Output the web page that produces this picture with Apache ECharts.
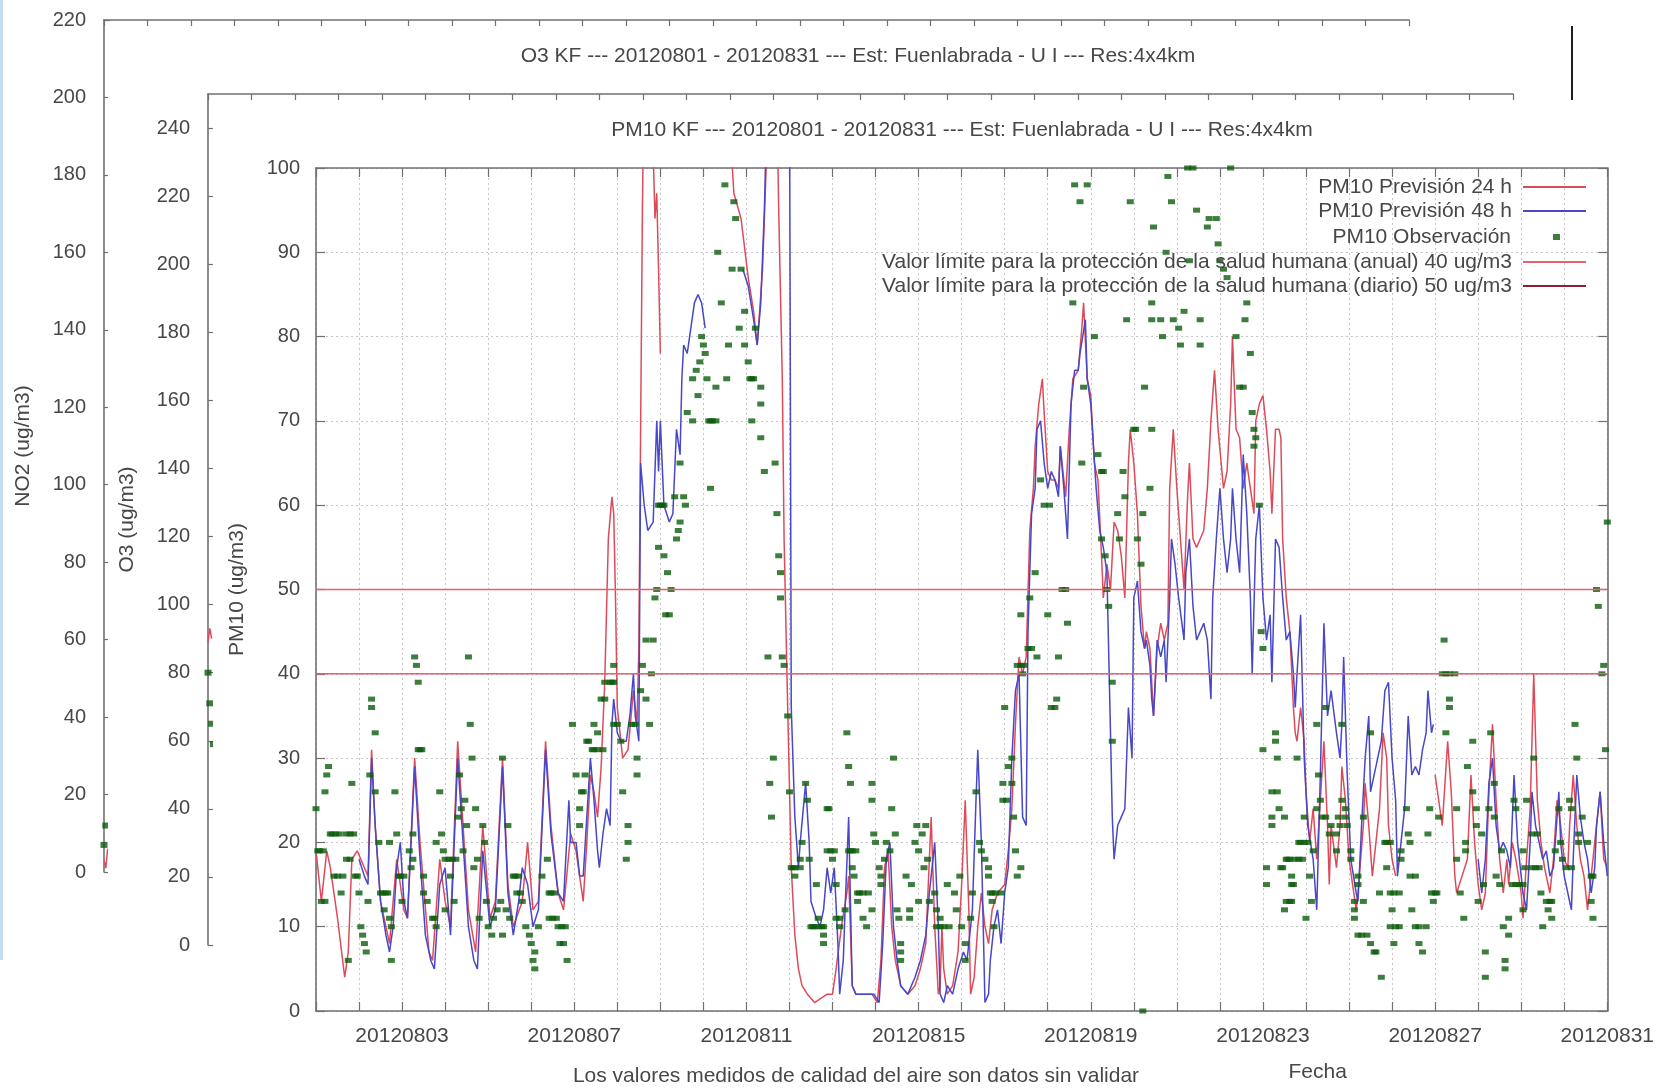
<!DOCTYPE html>
<html><head><meta charset="utf-8">
<script src="https://cdn.jsdelivr.net/npm/echarts@6/dist/echarts.min.js"></script>
<style>html,body{margin:0;padding:0;background:#fff}#c{width:1657px;height:1088px}</style>
</head><body><div id="c"></div>
<script>
// ---------- DATA (x = hours since 2012-08-01 00:00) ----------
const dateLabelDays = [2, 6, 10, 14, 18, 22, 26, 30];
const dateLabels = ['20120803','20120807','20120811','20120815','20120819','20120823','20120827','20120831'];

const pm10Prev24 = [
[0,19],[3,13],[6,19],[8,17],[12,11],[16,4],[18,7],[20,18],[23,19],[27,17],[29,16],[31,31],[33,22],[36,13],[41,8],[45,18],[49,12],[51,11],[55,30],[58,20],[63,7],[65,6],[69,18],[72,13],[75,10],[79,32],[82,22],[85,12],[89,7],[93,22],[97,11],[100,13],[104,30],[107,15],[110,10],[115,13],[118,20],[121,12],[124,13],[128,32],[131,22],[135,14],[138,12],
[142,21],[145,19],[149,13],[151,20],[153,28],[155,26],[157,23],[159,29],[161,39],[163,56],[165,61],[166,59],[167,49],[168,36],[171,30],[174,31],[177,38],[179,34],[180,43],[181,69],[182,95],[183,112],[186,118],[189,94],[190,97],[191,88],[192,78],[193,null],
[231,104],[233,97],[237,94],[241,87],[244,83],[246,79],[247,82],[249,88],[251,100],[253,118],[256,120],[258,95],[260,75],[261,56],[263,36],[265,17],[267,9],[269,5],[271,3],[274,2],[278,1],[285,2],[288,2],[290,5],[293,10],[296,14],[297,16],[299,3],[301,2],[306,2],[310,2],[313,1],[315,6],[317,17],[319,19],[321,10],[323,6],[326,3],[330,2],[334,3],[337,5],[340,8],[342,18],[343,23],[345,10],[347,2],[348,3],[349,10],[350,5],[352,2],[355,3],[358,7],[360,15],[362,25],[364,12],[365,2],[367,4],[369,10],[371,14],[373,10],[375,8],[377,12],[380,14],[384,15],[386,19],[388,24],[390,34],[392,42],[394,40],[396,42],[398,57],[400,62],
[401,67],[403,72],[405,75],[406,71],[408,64],[410,63],[412,63],[414,62],[415,67],[416,65],[418,61],[420,69],[422,75],[425,76],[427,81],[428,84],[430,75],[432,73],[434,65],[436,63],[438,54],[439,49],[441,53],[443,50],[445,58],[447,57],[449,54],[451,49],[453,65],[454,69],[456,65],[458,59],[460,48],[462,43],[463,45],[465,43],[467,35],[469,43],[471,46],[473,44],[475,46],[476,62],[478,69],[480,62],[482,56],[484,50],[486,61],[487,65],[489,56],[491,55],[493,56],[495,57],[497,62],[499,70],[501,76],[503,69],[506,62],[508,64],[510,72],[511,80],[513,69],[515,68],[517,62],[519,65],[521,62],[523,59],[524,70],[526,72],[528,73],[530,69],[532,64],[533,59],[535,69],[537,69],[538,68],[539,56],[541,49],[543,45],[545,36],[546,33],
[547,32],[549,36],[551,32],[552,26],[554,20],[556,24],[558,18],[560,25],[562,32],[564,22],[565,15],[566,22],[569,17],[571,22],[572,29],[574,25],[576,18],[578,15],[580,12],[581,14],[584,22],[585,27],[587,22],[589,16],[591,20],[593,24],[595,33],[597,30],[598,22],[600,18],[602,16],[604,null],
[624,28],[626,25],[628,22],[631,32],[633,26],[635,16],[636,14],[639,16],[642,18],[644,28],[646,20],[648,15],[650,12],[652,14],[654,26],[656,34],[658,25],[660,18],[662,14],[664,18],[665,15],[667,20],[669,18],[672,14],[673,11],[675,18],[677,24],[679,40],[681,25],[683,20],[685,17],[686,16],[688,14],[690,18],[692,25],[694,22],[696,18],[698,17],[699,22],[701,28],[703,22],[705,18],[707,16],[709,12],[711,16],[712,18],[714,22],[716,26],[718,18],[720,17]
];

const pm10Prev48 = [
[24,18],[27,16],[29,15],[31,30],[33,22],[36,13],[39,9],[41,7],[43,10],[45,17],[47,20],[49,13],[51,11],[55,29],[58,18],[61,9],[64,6],[66,5],[69,15],[72,17],[75,9],[79,30],[82,20],[85,10],[88,6],[90,5],[93,19],[97,10],[100,12],[104,29],[107,14],[110,9],[113,13],[115,17],[118,15],[121,10],[124,12],[128,31],[131,21],[135,14],[138,13],
[141,25],[142,20],[145,20],[147,16],[149,16],[151,23],[153,30],[155,25],[157,19],[158,17],[160,21],[162,24],[164,22],[165,34],[166,37],[168,33],[170,32],[173,32],[175,35],[177,40],[178,35],[180,32],[181,65],[183,60],[185,57],[188,58],[190,70],[191,64],[192,70],[194,60],[197,58],[199,59],[201,69],[203,66],[204,75],[205,79],[207,78],[209,81],[211,84],[213,85],[215,84],[217,81],[218,null],
[238,88],[241,86],[244,82],[246,79],[248,84],[250,95],[252,112],[258,118],[264,112],[265,36],[267,23],[269,17],[270,20],[273,27],[275,20],[276,13],[279,11],[281,10],[283,12],[285,17],[287,14],[289,17],[291,8],[292,2],[294,6],[295,12],[297,23],[299,3],[301,2],[306,2],[311,2],[314,1],[316,8],[318,18],[320,20],[322,10],[324,6],[326,3],[330,2],[334,4],[337,6],[340,9],[342,14],[345,20],[347,10],[348,2],[350,1],[352,3],[355,2],[358,5],[361,7],[363,6],[366,12],[368,25],[369,31],[371,20],[373,1],[375,2],[376,6],[378,10],[380,12],[382,8],[384,14],[386,17],[388,30],[390,38],[392,40],[394,23],[396,22],[397,45],[399,59],
[401,62],[402,69],[404,70],[406,65],[408,62],[410,64],[412,63],[414,61],[415,67],[417,62],[419,56],[421,72],[423,76],[425,76],[426,78],[429,82],[430,75],[432,72],[435,62],[437,57],[439,55],[441,52],[443,33],[444,23],[445,18],[447,22],[449,23],[451,24],[453,36],[454,33],[455,30],[456,49],[458,51],[460,45],[462,43],[463,44],[465,41],[466,37],[467,35],[469,44],[471,42],[473,44],[474,39],[476,49],[477,56],[479,53],[481,49],[484,44],[485,52],[487,56],[489,48],[491,44],[493,45],[495,46],[497,44],[499,37],[500,49],[502,56],[504,62],[506,56],[508,52],[510,56],[511,62],[513,56],[515,52],[517,66],[519,59],[521,49],[522,40],[524,56],[526,60],[528,49],[530,44],[532,47],[533,39],[535,56],[537,55],[539,49],[541,44],[543,45],[545,40],[546,36],
[547,40],[549,47],[551,30],[553,22],[556,18],[558,12],[560,28],[562,46],[564,35],[566,38],[567,38],[569,33],[571,30],[572,34],[573,42],[575,28],[577,18],[580,14],[581,13],[583,22],[585,30],[587,35],[588,26],[590,28],[592,30],[594,32],[596,38],[598,39],[600,30],[602,25],[603,16],[605,20],[607,24],[609,35],[611,28],[613,29],[615,28],[617,31],[619,33],[620,38],[622,33],[623,34],[624,null],
[648,18],[650,14],[652,18],[654,27],[656,30],[658,22],[660,19],[662,20],[664,19],[666,17],[668,28],[670,20],[673,14],[675,12],[677,20],[678,26],[680,22],[682,20],[684,18],[686,19],[688,16],[690,17],[693,26],[694,20],[696,16],[698,14],[700,12],[701,18],[703,28],[705,23],[707,20],[709,18],[711,14],[713,17],[714,22],[716,26],[718,20],[720,16]
];

const pm10Obs = [
[0,24],[1,19],[2,19],[3,13],[4,19],[5,13],[5,26],[6,28],[7,29],[8,21],[9,21],[10,16],[11,21],[12,16],[13,21],[14,14],[15,16],[17,21],[17,18],[18,6],[19,21],[19,18],[20,27],[21,21],[22,16],[23,16],[24,14],[25,10],[26,9],[27,8],[28,7],[29,13],[30,28],[31,37],[31,36],[33,33],[33,26],[35,20],[36,14],[37,14],[38,12],[39,14],[40,14],[41,11],[42,10],[42,6],[41,20],[44,26],[45,21],[46,16],[47,16],[48,13],[49,16],[52,19],[53,17],[54,21],[54,18],[55,42],[56,41],[57,39],[57,31],[58,31],[59,31],[60,16],[60,14],[62,13],[65,11],[66,11],[67,10],[67,20],[69,26],[70,21],[71,19],[72,18],[72,12],[74,18],[75,16],[76,18],[77,13],[78,18],[79,23],[80,28],[81,24],[82,19],[83,25],[84,22],[85,42],[86,34],[87,30],[88,17],[89,24],[90,18],[91,11],[93,22],[94,20],[95,13],[96,10],[98,9],[99,11],[101,12],[103,13],[104,30],[104,9],[106,12],[107,22],[108,11],[110,16],[111,16],[112,14],[113,16],[114,14],[115,13],[117,10],[119,9],[120,8],[121,6],[122,7],[122,5],[124,10],[126,16],[129,18],[130,14],[131,14],[130,11],[132,11],[133,14],[134,11],[135,10],[136,8],
[137,10],[138,8],[139,10],[140,6],[143,34],[145,28],[147,22],[147,24],[148,26],[149,26],[150,28],[151,32],[152,32],[154,31],[155,31],[155,34],[157,31],[157,33],[159,37],[160,31],[161,37],[161,39],[164,39],[165,39],[166,39],[166,41],[166,34],[168,34],[170,32],[171,26],[173,18],[174,22],[174,20],[176,34],[178,34],[179,30],[179,28],[181,38],[182,41],[184,44],[184,37],[186,34],[187,40],[188,44],[189,49],[190,50],[191,55],[191,60],[192,60],[193,60],[194,60],[194,54],[195,47],[196,52],[197,47],[198,50],[200,61],[201,56],[202,57],[203,58],[203,65],[205,61],[206,60],[207,71],[210,70],[210,75],[212,76],[213,73],[214,77],[215,80],[216,79],[217,78],[218,75],[219,70],[220,70],[220,62],[221,70],[223,70],[223,74],[224,90],[226,84],[228,98],[229,75],[230,79],[232,88],[233,96],[234,94],[236,81],[237,88],[239,83],[239,79],[241,77],[242,75],[243,75],[243,70],[244,75],[245,81],[248,72],[248,74],[248,68],[250,64],[252,42],[253,27],[254,23],[255,30],[256,65],[257,59],[258,54],[259,52],[259,49],[260,42],[261,41],[263,35],[264,26],[265,17],[266,17],[267,17],[267,16],[270,17],[270,18],[271,20],[273,27],[274,25],[275,18],[276,10],[277,10],[278,10],[279,15],[280,10],[280,11],[283,10],[283,9],[285,24],[287,19],
[282,10],[283,8],[286,24],[285,19],[288,18],[289,19],[290,15],[290,11],[292,11],[292,10],[295,12],[296,33],[297,29],[298,27],[297,19],[298,19],[299,19],[301,19],[299,17],[300,16],[302,14],[303,14],[305,14],[308,14],[302,13],[305,11],[307,10],[310,12],[310,27],[310,25],[311,21],[312,20],[314,17],[315,16],[315,15],[317,18],[318,20],[320,19],[321,24],[322,30],[323,21],[324,12],[325,11],[326,8],[326,7],[326,6],[329,16],[332,15],[331,12],[331,11],[334,20],[336,19],[335,22],[338,21],[340,22],[336,13],[339,17],[341,18],[342,13],[345,14],[346,12],[346,10],[348,10],[350,10],[353,10],[348,11],[352,15],[356,14],[357,12],[359,16],[360,10],[362,8],[362,6],[366,14],[365,11],[368,26],[370,20],[371,19],[373,18],[375,17],[375,16],[376,14],[377,14],[379,14],[382,14],[377,13],[378,10],[383,27],[383,25],[385,25],[384,36],[386,29],[388,30],[388,27],[389,23],[390,19],[391,16],[393,17],
[391,41],[393,41],[395,41],[393,47],[394,40],[397,43],[399,43],[398,49],[401,52],[402,42],[404,63],[406,60],[409,60],[408,47],[410,36],[412,36],[413,37],[414,42],[416,50],[418,50],[419,46],[423,98],[430,98],[426,96],[422,84],[427,65],[428,74],[434,80],[436,66],[438,64],[439,64],[438,56],[440,54],[441,50],[442,48],[444,39],[444,32],[447,59],[448,56],[450,64],[451,61],[452,82],[454,96],[456,69],[457,69],[458,56],[460,53],[461,59],[462,74],[461,0],[465,62],[466,69],[467,93],[466,84],[466,82],[471,82],[472,80],[474,90],[475,99],[477,96],[478,82],[481,81],[482,79],[484,83],[486,100],[489,100],[487,89],[491,95],[493,82],[493,79],[497,93],[498,94],[502,94],[503,91],[504,89],[506,88],[508,87],[510,100],[513,80],[515,74],[517,74],[519,84],[518,82],[521,78],[522,71],[523,69],[523,67],[524,68],[526,60],[527,45],[528,43],[528,31],[535,33],[535,32],[533,26],[533,23],[533,22],[530,17],[530,15],[537,24],[538,17],[541,18],[543,18],[546,18],[544,15],[541,13],[544,13],
[536,30],[536,26],[540,23],[539,17],[542,18],[548,18],[550,18],[544,16],[545,15],[540,12],[543,13],[547,30],[548,20],[549,20],[551,20],[553,20],[551,23],[552,11],[554,16],[555,13],[556,19],[558,34],[563,36],[559,28],[560,25],[558,24],[561,23],[563,23],[565,21],[566,22],[569,21],[571,22],[569,19],[570,23],[572,25],[572,34],[574,24],[574,23],[575,22],[577,19],[577,18],[579,13],[579,12],[579,11],[581,16],[581,15],[581,9],[583,9],[586,9],[584,13],[584,23],[588,33],[588,8],[590,7],[591,7],[593,14],[594,4],[596,20],[597,20],[599,20],[597,17],[599,14],[601,14],[604,14],[600,12],[599,10],[602,10],[604,10],[601,8],[605,19],[605,18],[608,24],[609,21],[610,20],[610,16],[613,16],[611,12],[613,10],[615,10],[619,10],[615,8],[617,7],[620,21],[621,24],[622,14],[624,14],[625,14],[623,13],[626,23],[628,40],[630,40],[632,40],[635,40],[629,44],[630,33],[632,37],[632,36],[636,24],[636,18],[638,14],[640,11],[641,20],[641,19],[642,29],[645,32],[645,26],[647,24],[647,22],[648,13],[650,21],[651,15],[652,7],[652,4],[654,24],[655,33],[657,27],[657,23],[658,16],[660,15],[661,19],[662,10],[665,9],[663,5],[663,6],[665,11],[667,15],[669,15],[671,15],[673,15],[668,25],[669,24],[673,19],[673,12],[674,17],[675,25],[678,17],[680,17],[682,17],[678,21],[681,21],[679,30],[683,14],[684,10],[686,13],[688,13],[689,13],[687,12],[689,11],[691,19],[693,24],[694,20],[695,18],[697,17],[699,25],[700,24],[700,17],[702,34],[703,30],[704,21],[704,20],[706,23],[709,20],[711,16],[712,16],[711,13],[712,11],[714,50],[715,48],[717,40],[718,41],[719,31],[720,58]
];

const limitAnual = 40;
const limitDiario = 50;

// Only the first hours of the two charts underneath are visible
const no2Obs = [[0,7],[1,12]];
const no2Prev24 = [[0,3],[1,1],[2,6]];
const o3Obs = [[0,80],[1,71],[2,65],[3,59]];
const o3Prev24 = [[0,89],[1,93],[2,90]];

// ---------- CHART ----------
const FONT = 'Liberation Sans, Arial, Helvetica, sans-serif';
const TXT = '#474747';
const AX = '#707070';
const FS = 21;
const HMAX = 720;

function dateFmt(v) {
  const d = v / 24;
  const i = dateLabelDays.indexOf(Math.round(d));
  if (Math.abs(d - Math.round(d)) > 1e-6 || i < 0) return '';
  return dateLabels[i];
}
const lbl = (extra) => Object.assign({ color: TXT, fontSize: 20, fontFamily: FONT }, extra || {});
const nameStyle = (extra) => Object.assign({ color: TXT, fontSize: FS, fontFamily: FONT }, extra || {});
const axLine = { show: true, onZero: false, lineStyle: { color: AX, width: 1.6 } };
const tickIn = (len) => ({ show: true, inside: true, length: len, lineStyle: { color: AX, width: 1.2 } });
const gridDots = { show: true, lineStyle: { color: '#c6c6c6', type: [2, 3], width: 1 } };

const chart = echarts.init(document.getElementById('c'), null, { renderer: 'canvas' });

const legendRows = [
  { name: 'PM10 Previsión 24 h', top: 175, color: null },
  { name: 'PM10 Previsión 48 h', top: 199, color: null },
  { name: 'PM10 Observación', top: 225, obs: true },
  { name: 'Valor límite para la protección de la salud humana (anual) 40 ug/m3', top: 250, color: null },
  { name: 'Valor límite para la protección de la salud humana (diario) 50 ug/m3', top: 274, color: '#8c1f35' }
];

const option = {
  backgroundColor: '#ffffff',
  animation: false,
  title: [
    { text: 'O3 KF --- 20120801 - 20120831 --- Est: Fuenlabrada - U I --- Res:4x4km',
      left: 858, top: 44, textAlign: 'center', padding: 0, z: 6,
      textStyle: { fontSize: FS, lineHeight: 24, fontWeight: 'normal', color: TXT, fontFamily: FONT } },
    { text: 'PM10 KF --- 20120801 - 20120831 --- Est: Fuenlabrada - U I --- Res:4x4km',
      left: 962, top: 118, textAlign: 'center', padding: 0, z: 11,
      textStyle: { fontSize: FS, lineHeight: 24, fontWeight: 'normal', color: TXT, fontFamily: FONT } }
  ],
  grid: [
    { left: 104, top: 20, width: 1305, height: 852 },
    { left: 208, top: 94, width: 1305, height: 851 },
    { left: 316, top: 168, width: 1297, height: 847 }
  ],
  xAxis: [
    { type: 'value', gridIndex: 0, position: 'top', min: 0, max: HMAX, interval: 24, z: 1,
      axisLine: axLine, axisTick: tickIn(6), axisLabel: { show: false }, splitLine: { show: false } },
    { type: 'value', gridIndex: 1, position: 'top', min: 0, max: HMAX, interval: 24, z: 6,
      axisLine: axLine, axisTick: tickIn(6), axisLabel: { show: false }, splitLine: { show: false } },
    { type: 'value', gridIndex: 2, position: 'bottom', min: 0, max: HMAX, interval: 24, z: 11,
      axisLine: axLine, axisTick: tickIn(9),
      axisLabel: lbl({ formatter: dateFmt, margin: 15, fontSize: 21 }),
      splitLine: gridDots,
      name: 'Fecha', nameLocation: 'middle', nameGap: 51,
      nameTextStyle: nameStyle({ padding: [0, 0, 0, 712] }) },
    { type: 'value', gridIndex: 2, position: 'top', min: 0, max: HMAX, interval: 24, z: 11,
      axisLine: axLine, axisTick: tickIn(9), axisLabel: { show: false }, splitLine: { show: false } }
  ],
  yAxis: [
    { type: 'value', gridIndex: 0, position: 'left', min: 0, max: 220, interval: 20, z: 1,
      axisLine: axLine, axisTick: tickIn(6), axisLabel: lbl({ margin: 18 }), splitLine: { show: false },
      name: 'NO2 (ug/m3)', nameLocation: 'middle', nameGap: 70, nameTextStyle: nameStyle() },
    { type: 'value', gridIndex: 1, position: 'left', min: 0, max: 250, interval: 20, z: 6,
      axisLine: axLine, axisTick: tickIn(6), axisLabel: lbl({ margin: 18, showMaxLabel: false }), splitLine: { show: false },
      name: 'O3 (ug/m3)', nameLocation: 'middle', nameGap: 70, nameTextStyle: nameStyle() },
    { type: 'value', gridIndex: 2, position: 'left', min: 0, max: 100, interval: 10, z: 11,
      axisLine: axLine, axisTick: tickIn(9), axisLabel: lbl({ margin: 16 }), splitLine: gridDots,
      name: 'PM10 (ug/m3)', nameLocation: 'middle', nameGap: 68, nameTextStyle: nameStyle() },
    { type: 'value', gridIndex: 2, position: 'right', min: 0, max: 100, interval: 10, z: 11,
      axisLine: axLine, axisTick: tickIn(9), axisLabel: { show: false }, splitLine: { show: false } }
  ],
  legend: legendRows.map(l => {
    const item = { name: l.name, icon: 'rect' };
    if (l.color) item.itemStyle = { color: l.color };
    return {
      data: [item], right: l.obs ? 97 : 71, top: l.top, orient: 'horizontal', align: 'right',
      itemWidth: l.obs ? 7 : 63, itemHeight: l.obs ? 6 : 2, itemGap: 0, padding: 0, selectedMode: false, z: 20,
      textStyle: { color: TXT, fontSize: FS, fontFamily: FONT, lineHeight: 24, padding: [0, l.obs ? 37 : 6, 0, 0] }
    };
  }),
  graphic: [
    { type: 'rect', z: 5, silent: true, shape: { x: 108, y: 28, width: 1549, height: 1060 }, style: { fill: '#ffffff' } },
    { type: 'rect', z: 10, silent: true, shape: { x: 213, y: 102, width: 1444, height: 986 }, style: { fill: '#ffffff' } },
    { type: 'rect', z: 30, silent: true, shape: { x: 0, y: 0, width: 3, height: 960 }, style: { fill: '#c4dcf0' } },
    { type: 'line', z: 30, silent: true, shape: { x1: 1572, y1: 26, x2: 1572, y2: 100 }, style: { stroke: '#1e1e1e', lineWidth: 2 } },
    { type: 'text', z: 30, silent: true, x: 856, y: 1076,
      style: { text: 'Los valores medidos de calidad del aire son datos sin validar', align: 'center', verticalAlign: 'middle',
               textAlign: 'center', textVerticalAlign: 'middle', fontSize: FS, fontFamily: FONT, fill: TXT } }
  ],
  series: [
    { name: 'NO2 Previsión 24 h', type: 'line', xAxisIndex: 0, yAxisIndex: 0, z: 2, data: no2Prev24,
      showSymbol: false, symbol: 'none', lineStyle: { color: '#dd4b5a', width: 1.5 } },
    { name: 'NO2 Observación', type: 'scatter', xAxisIndex: 0, yAxisIndex: 0, z: 3, data: no2Obs,
      symbol: 'rect', symbolSize: [7, 6], itemStyle: { color: '#0d5c0d' } },
    { name: 'O3 Previsión 24 h', type: 'line', xAxisIndex: 1, yAxisIndex: 1, z: 7, data: o3Prev24,
      showSymbol: false, symbol: 'none', lineStyle: { color: '#dd4b5a', width: 1.5 } },
    { name: 'O3 Observación', type: 'scatter', xAxisIndex: 1, yAxisIndex: 1, z: 8, data: o3Obs,
      symbol: 'rect', symbolSize: [7, 6], itemStyle: { color: '#0d5c0d' } },

    { name: 'PM10 Previsión 24 h', type: 'line', xAxisIndex: 2, yAxisIndex: 2, z: 12, data: pm10Prev24,
      showSymbol: false, symbol: 'none', connectNulls: false, clip: true,
      lineStyle: { color: '#dd4b5a', width: 1.5 }, itemStyle: { color: '#dd4b5a' } },
    { name: 'PM10 Previsión 48 h', type: 'line', xAxisIndex: 2, yAxisIndex: 2, z: 13, data: pm10Prev48,
      showSymbol: false, symbol: 'none', connectNulls: false, clip: true,
      lineStyle: { color: '#4747c8', width: 1.5 }, itemStyle: { color: '#4747c8' } },
    { name: 'PM10 Observación', type: 'scatter', xAxisIndex: 2, yAxisIndex: 2, z: 14, data: pm10Obs,
      symbol: 'rect', symbolSize: [7, 5], clip: true, itemStyle: { color: '#0d5c0d' } },
    { name: 'Valor límite para la protección de la salud humana (anual) 40 ug/m3', type: 'line', xAxisIndex: 2, yAxisIndex: 2, z: 15,
      data: [[0, limitAnual], [HMAX, limitAnual]], showSymbol: false, symbol: 'none',
      lineStyle: { color: '#e8606c', width: 1.6 }, itemStyle: { color: '#e8606c' } },
    { name: 'Valor límite para la protección de la salud humana (diario) 50 ug/m3', type: 'line', xAxisIndex: 2, yAxisIndex: 2, z: 15,
      data: [[0, limitDiario], [HMAX, limitDiario]], showSymbol: false, symbol: 'none',
      lineStyle: { color: '#e8606c', width: 1.6 }, itemStyle: { color: '#e8606c' } }
  ]
};
chart.setOption(option);
</script>
</body></html>
